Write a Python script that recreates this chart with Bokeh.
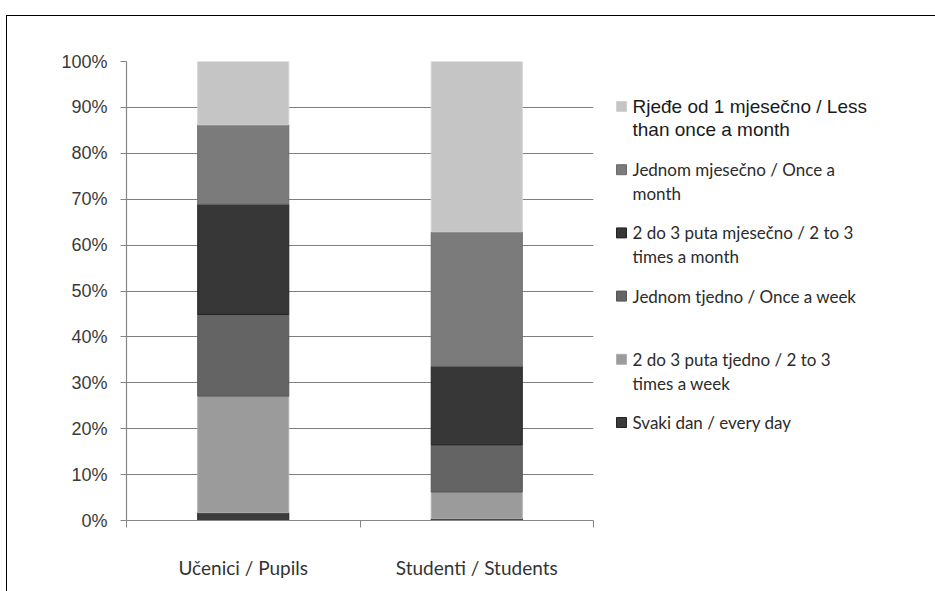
from bokeh.plotting import figure
from bokeh.layouts import row
from bokeh.models import Range1d, FixedTicker, ColumnDataSource
from bokeh.core.properties import value
from bokeh.embed import file_html
from bokeh.resources import INLINE

# ---------------- data ----------------
categories = ["Učenici / Pupils", "Studenti / Students"]
series_names = [
    "Svaki dan / every day",
    "2 do 3 puta tjedno / 2 to 3 times a week",
    "Jednom tjedno / Once a week",
    "2 do 3 puta mjesečno / 2 to 3 times a month",
    "Jednom mjesečno / Once a month",
    "Rjeđe od 1 mjesečno / Less than once a month",
]
# legend labels as wrapped in the original
legend_labels = [
    "Svaki dan / every day",
    "2 do 3 puta tjedno / 2 to 3\ntimes a week",
    "Jednom tjedno / Once a week",
    "2 do 3 puta mjesečno / 2 to 3\ntimes a month",
    "Jednom mjesečno / Once a\nmonth",
    "Rjeđe od 1 mjesečno / Less\nthan once a month",
]
svaki_dan = [1.7, 0.4]
tjedno_2_3 = [25.4, 5.8]
jednom_tjedno = [17.8, 10.3]
mjesecno_2_3 = [24.0, 17.1]
jednom_mjesecno = [17.3, 29.3]
rjede = [13.8, 37.1]
y_ticks = [0, 10, 20, 30, 40, 50, 60, 70, 80, 90, 100]

fills = ["#3b3b3b", "#9b9b9b", "#646464", "#373737", "#7b7b7b", "#c5c5c5"]
edges = ["#232323", "#b0b0b0", "#555555", "#222222", "#6c6c6c", "#d3d3d3"]

# ---------------- layout constants ----------------
H = 575
FW, FH = 467, 459
BL, BT, BR = 119, 45, 10
BB = H - BT - FH
MW = BL + FW + BR
LW = 332

keys = ["s0", "s1", "s2", "s3", "s4", "s5"]
xpos = [i + 1 for i in range(len(categories))]
src = ColumnDataSource(dict(x=xpos, s0=svaki_dan, s1=tjedno_2_3, s2=jednom_tjedno,
                            s3=mjesecno_2_3, s4=jednom_mjesecno, s5=rjede))

p = figure(width=MW, height=H, output_backend="svg", toolbar_location=None,
           x_range=Range1d(0.5, len(categories) + 0.5), y_range=Range1d(0, 100),
           min_border_left=BL, min_border_top=BT, min_border_bottom=BB, min_border_right=BR)
p.vbar_stack(keys, x="x", width=0.39, source=src, fill_color=fills, line_color=edges, line_width=1)

p.outline_line_color = None
p.xgrid.grid_line_color = None
p.ygrid.ticker = FixedTicker(ticks=y_ticks)
p.ygrid.grid_line_color = "#7f7f7f"
p.ygrid.grid_line_width = 1.2

p.yaxis.ticker = FixedTicker(ticks=y_ticks)
p.yaxis.major_label_overrides = {t: f"{t}%" for t in y_ticks}
p.yaxis.axis_line_color = "#868686"
p.yaxis.axis_line_width = 1.2
p.yaxis.major_tick_line_color = "#868686"
p.yaxis.major_tick_out = 6
p.yaxis.major_tick_in = 0
p.yaxis.minor_tick_line_color = None
p.yaxis.major_label_standoff = 13
p.yaxis.major_label_text_font = "Liberation Sans"
p.yaxis.major_label_text_font_size = "18px"
p.yaxis.major_label_text_color = "#3a3a3a"

p.xaxis.ticker = FixedTicker(ticks=xpos, minor_ticks=[i + 0.5 for i in range(len(categories) + 1)])
p.xaxis.major_label_overrides = {x: c for x, c in zip(xpos, categories)}
p.xaxis.axis_line_color = "#868686"
p.xaxis.axis_line_width = 1.2
p.xaxis.major_tick_line_color = None
p.xaxis.major_tick_out = 0
p.xaxis.major_tick_in = 0
p.xaxis.minor_tick_line_color = "#868686"
p.xaxis.minor_tick_out = 7
p.xaxis.minor_tick_in = 0
p.xaxis.major_label_standoff = 28
p.xaxis.major_label_text_font = "Lato"
p.xaxis.major_label_text_font_size = "19px"
p.xaxis.major_label_text_color = "#333333"

# ---------------- legend panel ----------------
# row layout aligns this panel's frame with the chart frame, so y is measured
# in pixels from the chart frame's top edge
lg = figure(width=LW, height=H, output_backend="svg", toolbar_location=None,
            x_range=Range1d(0, LW), y_range=Range1d(FH, 0),
            min_border_left=0, min_border_right=0, min_border_top=BT, min_border_bottom=BB)
lg.axis.visible = False
lg.grid.visible = False
lg.outline_line_color = None

order = list(range(len(series_names)))[::-1]  # top-most series first
first_y = 45
step = 63.2
sq_x, sq_y, sq_f, sq_e = [], [], [], []
tx_a, ty_a, tt_a = [], [], []   # Arial-like first entry
tx_c, ty_c, tt_c = [], [], []   # Calibri-like entries
for k, idx in enumerate(order):
    yc = first_y + k * step
    sq_x.append(18)
    sq_y.append(yc)
    sq_f.append(fills[idx])
    sq_e.append(edges[idx])
    for j, line in enumerate(legend_labels[idx].split("\n")):
        if k == 0:
            tx_a.append(29); ty_a.append(yc + j * 23); tt_a.append(line)
        else:
            tx_c.append(29); ty_c.append(yc + j * 24); tt_c.append(line)

lg.scatter(x=sq_x, y=sq_y, marker="square", size=10, fill_color=sq_f, line_color=sq_e)
lg.text(x=tx_a, y=ty_a, text=tt_a, text_font=value("Liberation Sans"), text_font_size="19px",
        text_baseline="middle", text_align="left", text_color="#1a1a1a")
lg.text(x=tx_c, y=ty_c, text=tt_c, text_font=value("Lato"), text_font_size="17px",
        text_baseline="middle", text_align="left", text_color="#2b2b2b")

layout = row(p, lg, styles={"border-top": "1px solid #000", "border-left": "1px solid #000",
                            "margin-left": "6px", "margin-top": "15px"})
open("out.html", "w").write(file_html(layout, INLINE))
